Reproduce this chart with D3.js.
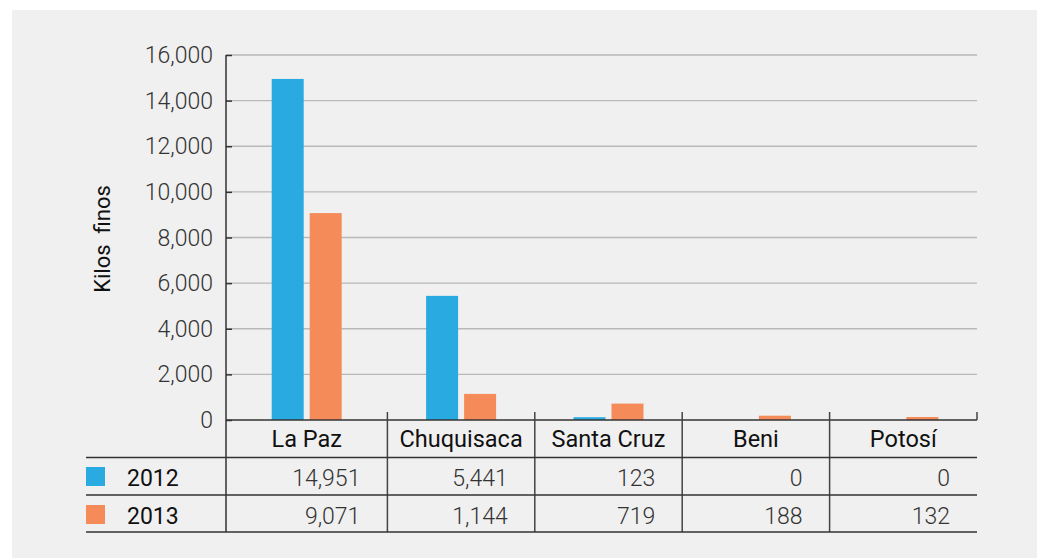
<!DOCTYPE html>
<html>
<head>
<meta charset="utf-8">
<script src="https://cdn.jsdelivr.net/npm/d3@7"></script>
<style>
  html, body { margin: 0; padding: 0; background: #ffffff; }
  svg { display: block; }
  text { font-family: Roboto, "Noto Sans", sans-serif; }
</style>
</head>
<body>
<svg id="chart" width="1037" height="558"></svg>
<script>
const categories = ["La Paz", "Chuquisaca", "Santa Cruz", "Beni", "Potosí"];
const seriesNames = ["2012", "2013"];
const values2012 = [14951, 5441, 123, 0, 0];
const values2013 = [9071, 1144, 719, 188, 132];
const yTicks = [0, 2000, 4000, 6000, 8000, 10000, 12000, 14000, 16000];
const yTitle = "Kilos\u00a0\u00a0finos";
const colors = ["#29abe2", "#f68b5a"];

const svg = d3.select("#chart");
svg.append("rect").attr("x", 12).attr("y", 10).attr("width", 1025).attr("height", 548).attr("fill", "#f0f0f0");

const axisX = 226, plotRight = 977;
const x = d3.scaleBand().domain(categories).range([240, plotRight]).paddingInner(0).paddingOuter(0);
const y = d3.scaleLinear().domain([0, 16000]).range([420, 55]);
const series = [values2012, values2013];

// cell boundaries (first cell starts at the axis)
const cellLeft = (c, i) => i === 0 ? axisX : x(c);
const cellRight = c => x(c) + x.bandwidth();
const cellCenter = (c, i) => (cellLeft(c, i) + cellRight(c)) / 2;

// gridlines
svg.append("g").selectAll("line").data(yTicks.filter(t => t > 0)).join("line")
  .attr("x1", axisX).attr("x2", plotRight)
  .attr("y1", d => y(d)).attr("y2", d => y(d))
  .attr("stroke", "#b9b9b9").attr("stroke-width", 1.3);

// y axis
const yAxis = svg.append("g").attr("transform", `translate(${axisX},0)`)
  .call(d3.axisRight(y).tickValues(yTicks).tickSize(6).tickFormat(""));
yAxis.select(".domain").attr("stroke", "#333").attr("stroke-width", 1.5).attr("d", `M0,${y(16000)}V532`);
yAxis.selectAll(".tick line").attr("stroke", "#333").attr("stroke-width", 1.5);

svg.append("g").selectAll("text").data(yTicks).join("text")
  .attr("x", 213).attr("y", d => y(d) + 8)
  .attr("text-anchor", "end").attr("font-size", 23).attr("font-weight", 300)
  .attr("fill", "#333").text(d => d3.format(",")(d));

// y title
svg.append("text")
  .attr("transform", "translate(110,239) rotate(-90)")
  .attr("text-anchor", "middle")
  .attr("font-family", "'Liberation Sans', Arial, sans-serif")
  .attr("font-size", 22).attr("fill", "#111").text(yTitle);

// bars
const barW = 32, gap = 6;
categories.forEach((c, i) => {
  const cx = cellCenter(c, i);
  series.forEach((vals, s) => {
    const v = vals[i];
    if (v <= 0) return;
    const bx = s === 0 ? cx - gap / 2 - barW : cx + gap / 2;
    svg.append("rect")
      .attr("x", bx).attr("width", barW)
      .attr("y", y(v)).attr("height", Math.max(y(0) - y(v), 0))
      .attr("fill", colors[s]);
  });
});

// x axis baseline and category ticks
const tableLeft = 86;
const rowLines = [457.5, 495, 532];
svg.append("line").attr("x1", axisX).attr("x2", plotRight).attr("y1", 420).attr("y2", 420)
  .attr("stroke", "#333").attr("stroke-width", 1.5);
svg.append("g").selectAll("line").data(categories.slice(1)).join("line")
  .attr("x1", d => x(d)).attr("x2", d => x(d)).attr("y1", 412).attr("y2", 532)
  .attr("stroke", "#444").attr("stroke-width", 1.5);
svg.append("line").attr("x1", plotRight).attr("x2", plotRight).attr("y1", 412).attr("y2", 420)
  .attr("stroke", "#444").attr("stroke-width", 1.5);

// table horizontal lines
svg.append("g").selectAll("line").data(rowLines).join("line")
  .attr("x1", tableLeft).attr("x2", plotRight).attr("y1", d => d).attr("y2", d => d)
  .attr("stroke", "#333").attr("stroke-width", 1.5);

// category labels
svg.append("g").selectAll("text").data(categories).join("text")
  .attr("x", (d, i) => cellCenter(d, i)).attr("y", 447)
  .attr("text-anchor", "middle").attr("font-size", 23.5).attr("fill", "#111")
  .text(d => d);

// series rows
const rowBaselines = [485.5, 523.5];
series.forEach((vals, s) => {
  svg.append("rect").attr("x", 86).attr("y", rowBaselines[s] - 18.5).attr("width", 19).attr("height", 19)
    .attr("fill", colors[s]);
  svg.append("text").attr("x", 127).attr("y", rowBaselines[s])
    .attr("font-size", 23).attr("fill", "#111").text(seriesNames[s]);
  svg.append("g").selectAll("text").data(vals).join("text")
    .attr("x", (d, i) => cellRight(categories[i]) - 27).attr("y", rowBaselines[s])
    .attr("text-anchor", "end").attr("font-size", 23).attr("font-weight", 300).attr("fill", "#333")
    .text(d => d3.format(",")(d));
});
</script>
</body>
</html>
